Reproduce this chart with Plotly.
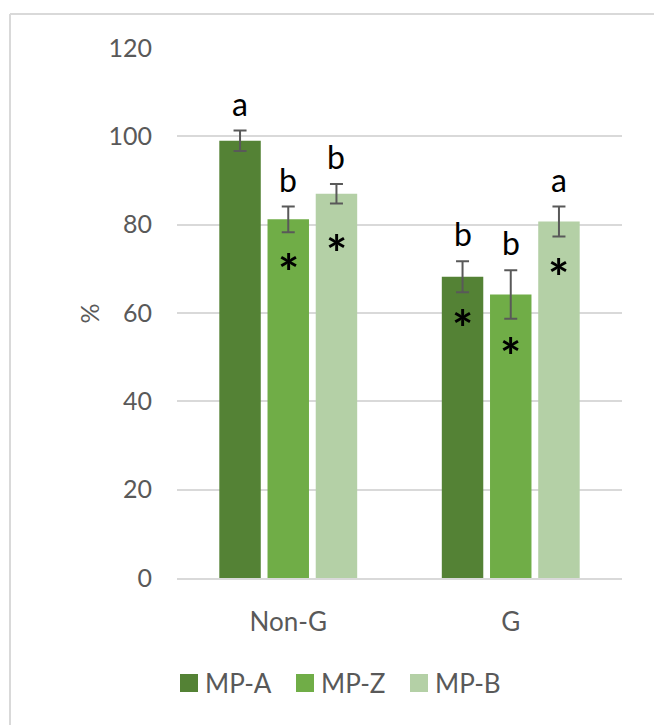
import plotly.graph_objects as go

# Group labels and series
groups = ["Non-G", "G"]
series = ["MP-A", "MP-Z", "MP-B"]
colors = ["#548235", "#70AD47", "#B4D0A6"]

# Mean values (%) and standard errors per series, ordered as in `groups`
values = {
    "MP-A": [99.0, 68.2],
    "MP-Z": [81.2, 64.2],
    "MP-B": [87.0, 80.7],
}
errors = {
    "MP-A": [2.3, 3.5],
    "MP-Z": [2.9, 5.5],
    "MP-B": [2.2, 3.4],
}
# Significance letters and asterisk flags
letters = {
    "MP-A": ["a", "b"],
    "MP-Z": ["b", "b"],
    "MP-B": ["b", "a"],
}
asterisk_y = {
    "MP-A": [None, 59.1],
    "MP-Z": [71.7, 52.7],
    "MP-B": [76.0, 70.6],
}

y_ticks = [0, 20, 40, 60, 80, 100, 120]

FONT = "Lato"
TXT = "#595959"
GRID = "#D9D9D9"

BARGAP = 0.35
slot = (1 - BARGAP) / len(series)

fig = go.Figure()
for i, s in enumerate(series):
    fig.add_trace(go.Bar(
        name=s,
        x=groups,
        y=values[s],
        marker=dict(color=colors[i], line=dict(width=0)),
        error_y=dict(type="data", array=errors[s], visible=True,
                     color="#595959", thickness=2, width=6.5),
        showlegend=False,
    ))

annotations = []
for i, s in enumerate(series):
    off = (i - (len(series) - 1) / 2) * slot
    for g in range(len(groups)):
        annotations.append(dict(
            x=g + off, y=values[s][g] + errors[s][g], xref="x", yref="y",
            text=letters[s][g], showarrow=False, yanchor="bottom", yshift=6,
            font=dict(family=FONT, size=32, color="#000000"),
        ))
        if asterisk_y[s][g] is not None:
            annotations.append(dict(
                x=g + off, y=asterisk_y[s][g], xref="x", yref="y",
                text="<b>*</b>", showarrow=False, yanchor="middle", yshift=-11,
                font=dict(family=FONT, size=50, color="#000000"),
            ))

# y-axis title
annotations.append(dict(
    x=-0.235, y=0.5, xref="paper", yref="paper", text="%", textangle=-90,
    showarrow=False, font=dict(family=FONT, size=25, color=TXT),
))

# Legend: coloured squares followed by series names
W, H = 654, 725
ML, MR, MT, MB = 177, 32, 48, 147
pw, ph = W - ML - MR, H - MT - MB


def px_x(x):
    return (x - ML) / pw


def px_y(y):
    return (H - MB - y) / ph


shapes = []
legend_x = [180, 296, 410]
for i, s in enumerate(series):
    x0 = legend_x[i]
    shapes.append(dict(type="rect", xref="paper", yref="paper",
                       x0=px_x(x0), x1=px_x(x0 + 18), y0=px_y(692), y1=px_y(674),
                       fillcolor=colors[i], line=dict(width=0)))
    annotations.append(dict(
        x=px_x(x0 + 23), y=px_y(683), xref="paper", yref="paper",
        text=s, showarrow=False, xanchor="left", yanchor="middle",
        font=dict(family=FONT, size=26, color=TXT),
    ))

# Chart frame: top and left edges
shapes.append(dict(type="line", xref="paper", yref="paper",
                   x0=px_x(10), x1=px_x(660), y0=px_y(14), y1=px_y(14),
                   line=dict(color=GRID, width=2)))
shapes.append(dict(type="line", xref="paper", yref="paper",
                   x0=px_x(10), x1=px_x(10), y0=px_y(14), y1=px_y(730),
                   line=dict(color=GRID, width=2)))

fig.update_layout(
    width=W, height=H,
    margin=dict(l=ML, r=MR, t=MT, b=MB),
    paper_bgcolor="white", plot_bgcolor="white",
    barmode="group", bargap=BARGAP, bargroupgap=0.14,
    font=dict(family=FONT, size=25, color=TXT),
    annotations=annotations, shapes=shapes,
    showlegend=False,
)
fig.update_yaxes(
    range=[0, 120], tickvals=y_ticks, showgrid=True, gridcolor=GRID, gridwidth=1.5,
    zeroline=False, showline=False, ticklabelstandoff=24,
    tickfont=dict(family=FONT, size=25, color=TXT),
)
fig.update_xaxes(
    showline=True, linecolor=GRID, linewidth=2, showgrid=False,
    ticks="", ticklabelstandoff=20,
    tickfont=dict(family=FONT, size=26, color=TXT),
)

fig.write_html("out.html")
